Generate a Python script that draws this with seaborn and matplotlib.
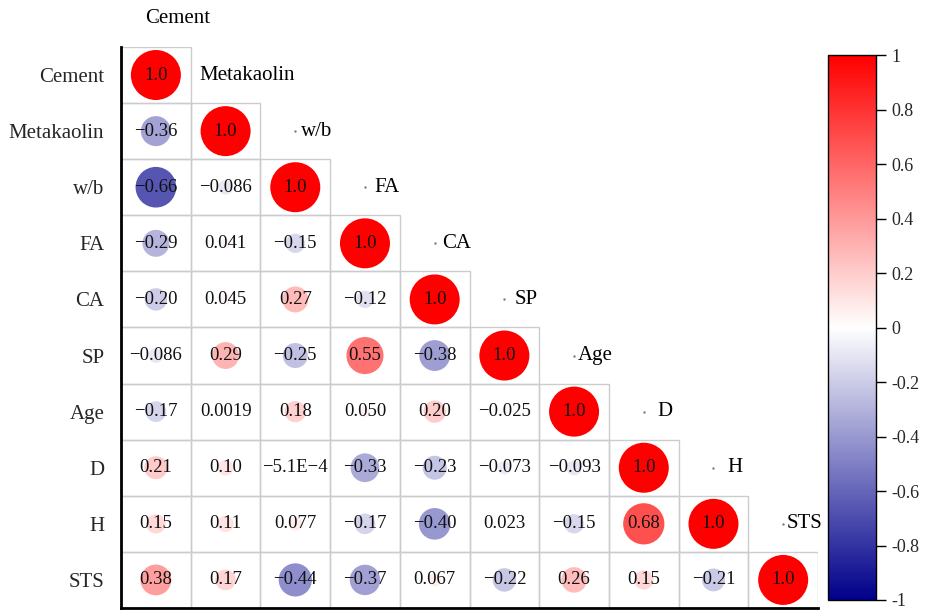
import numpy as np
import pandas as pd
import matplotlib
matplotlib.use("Agg")
import matplotlib.pyplot as plt
from matplotlib.colors import LinearSegmentedColormap, Normalize
from matplotlib.cm import ScalarMappable
from matplotlib.patches import Rectangle
import seaborn as sns

variables = ["Cement", "Metakaolin", "w/b", "FA", "CA", "SP", "Age", "D", "H", "STS"]

# lower-triangle correlations, row by row (diagonal = 1.0)
row_cement = [1.0]
row_metakaolin = [-0.36, 1.0]
row_wb = [-0.66, -0.086, 1.0]
row_fa = [-0.29, 0.041, -0.15, 1.0]
row_ca = [-0.20, 0.045, 0.27, -0.12, 1.0]
row_sp = [-0.086, 0.29, -0.25, 0.55, -0.38, 1.0]
row_age = [-0.17, 0.0019, 0.18, 0.050, 0.20, -0.025, 1.0]
row_d = [0.21, 0.10, -5.1e-4, -0.33, -0.23, -0.073, -0.093, 1.0]
row_h = [0.15, 0.11, 0.077, -0.17, -0.40, 0.023, -0.15, 0.68, 1.0]
row_sts = [0.38, 0.17, -0.44, -0.37, 0.067, -0.22, 0.26, 0.15, -0.21, 1.0]

rows = [row_cement, row_metakaolin, row_wb, row_fa, row_ca,
        row_sp, row_age, row_d, row_h, row_sts]

cbar_ticks = [-1, -0.8, -0.6, -0.4, -0.2, 0, 0.2, 0.4, 0.6, 0.8, 1]


def fmt(v):
    if abs(v) < 1e-3:
        s = f"{v:.1E}".replace("E-0", "E-")
    else:
        s = np.format_float_positional(v, precision=2, unique=False, fractional=False, trim="k")
    return s.replace("-", "\u2212")


records = []
for i, vals in enumerate(rows):
    for j, v in enumerate(vals):
        records.append({"row": i, "col": j, "r": v, "size": abs(v), "label": fmt(v)})
df = pd.DataFrame(records)

sns.set_theme(style="white")
plt.rcParams["font.family"] = ["Liberation Serif", "DejaVu Serif"]

cmap = LinearSegmentedColormap.from_list("corr", ["#00008B", "#FFFFFF", "#FF0000"])
n = len(variables)

fig = plt.figure(figsize=(9.26, 6.1), dpi=100)
ax = fig.add_axes([0.1307, 0.0033, 0.7527, 0.9197])

# cell grid (lower triangle incl. diagonal)
for i in range(n):
    for j in range(i + 1):
        ax.add_patch(Rectangle((j - 0.5, i - 0.5), 1, 1, fill=False,
                               edgecolor="#cccccc", linewidth=1, zorder=0))

sns.scatterplot(data=df, x="col", y="row", hue="r", palette=cmap, hue_norm=(-1, 1),
                size="size", sizes=(0, 1296), size_norm=(0, 1), linewidth=0,
                legend=False, ax=ax, zorder=2)

for _, rec in df.iterrows():
    ax.text(rec["col"], rec["row"], rec["label"], ha="center", va="center",
            fontsize=13.5, color="#111111", zorder=3)

# column labels along the diagonal
for j, name in enumerate(variables):
    ax.plot(j, j - 1, marker="o", markersize=0.7, color="#777777", clip_on=False, zorder=1)
    ax.text(j + 0.31, j - 1, name, ha="center", va="center", fontsize=15,
            color="black", clip_on=False, zorder=4)

ax.set_xlim(-0.5, n - 0.5)
ax.set_ylim(n - 0.5, -0.5)
ax.set_xticks([])
ax.set_yticks(range(n))
ax.set_yticklabels(variables, fontsize=15)
ax.tick_params(axis="y", length=0, pad=12)
ax.set_xlabel("")
ax.set_ylabel("")
for side in ["top", "right"]:
    ax.spines[side].set_visible(False)
for side in ["left", "bottom"]:
    ax.spines[side].set_color("black")
    ax.spines[side].set_linewidth(2)

cax = fig.add_axes([0.894, 0.0164, 0.0518, 0.893])
sm = ScalarMappable(norm=Normalize(-1, 1), cmap=cmap)
cb = fig.colorbar(sm, cax=cax, ticks=cbar_ticks)
cb.ax.set_yticklabels([f"{t:g}" for t in cbar_ticks], fontsize=13)
cb.ax.tick_params(length=7, width=1, color="black", direction="out", pad=4)
cb.outline.set_edgecolor("black")
cb.outline.set_linewidth(1)

fig.savefig("out.png", dpi=100)
